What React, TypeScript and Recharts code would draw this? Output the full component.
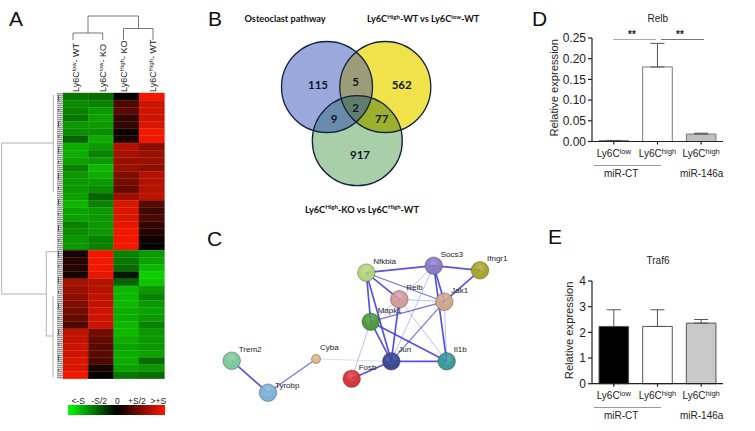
import React from 'react';
import {
  Bar,
  BarChart,
  Cell,
  ErrorBar,
  ReferenceLine,
  Scatter,
  ScatterChart,
  XAxis,
  YAxis,
} from 'recharts';

const SANS = '"Liberation Sans", Arial, sans-serif';
const VENN_FONT = 'Lato, "Open Sans", sans-serif';

// ---- panel A: heatmap, one value per row, -1 is full green, +1 is full red
const heatLow1 = [-0.55, -0.65, -0.6, -0.55, -0.7, -0.65, -0.45, -0.8, -0.8, -0.75, -0.6, -0.7, -0.7, -0.7, -0.75, -0.85, -0.75, -0.75, -0.6, -0.65, -0.7, -0.7, 0.1, 0.15, 0.15, 0.1, 0.65, 0.6, 0.55, 0.5, 0.45, 0.4, 0.3, 0.75, 0.75, 0.8, 0.8, 0.85, 0.85, 0.95];
const heatLow2 = [-0.5, -0.6, -0.7, -0.75, -0.7, -0.65, -0.8, -0.7, -0.6, -0.7, -0.85, -0.8, -0.7, -0.65, -0.45, -0.6, -0.7, -0.7, -0.7, -0.7, -0.6, -0.6, 0.95, 0.95, 0.95, 0.9, 0.7, 0.7, 0.75, 0.75, 0.8, 0.8, 0.8, 0.45, 0.4, 0.35, 0.35, 0.3, 0.1, 0.02];
const heatHigh1 = [0.02, 0.3, 0.35, 0.2, 0.2, 0.05, 0.1, 0.7, 0.65, 0.6, 0.6, 0.5, 0.45, 0.4, 0.6, 0.85, 0.85, 0.85, 0.9, 0.95, 0.95, 0.95, -0.6, -0.55, -0.5, -0.1, -0.45, -0.85, -0.85, -0.85, -0.8, -0.8, -0.85, -0.85, -0.8, -0.75, -0.8, -0.8, -0.75, -0.55];
const heatHigh2 = [0.95, 0.8, 0.8, 0.8, 0.85, 0.95, 0.95, 0.55, 0.6, 0.6, 0.55, 0.7, 0.7, 0.7, 0.75, 0.35, 0.25, 0.3, 0.2, 0.15, 0.05, 0.02, -0.7, -0.75, -0.85, -0.95, -0.9, -0.7, -0.6, -0.7, -0.75, -0.7, -0.6, -0.7, -0.7, -0.7, -0.75, -0.5, -0.7, -0.5];
const heatColumns = [heatLow1, heatLow2, heatHigh1, heatHigh2];
const heatSups = ['low', 'low', 'High', 'High'];
const heatGroups = ['- WT', '- KO', '- KO', '- WT'];
const heatTickShift = [3.3, 5, 1, 4.7];
const heatRows = heatLow1.map((_, row) => ({ row, a: 1, b: 1, c: 1, d: 1 }));
const heatKeys = ['a', 'b', 'c', 'd'];

const heatColor = (v: number) => {
  const level = Math.round(Math.abs(v) * 255);
  return v >= 0 ? `rgb(${level},${Math.round(level * 0.1)},0)` : `rgb(${Math.round(level * 0.06)},${Math.round(level * 0.85)},0)`;
};

// dendrogram branches, [x1, y1, x2, y2] in page pixels
const dendroBranches = [
  [73, 40, 73, 33], [73, 33, 102.7, 33], [102.7, 33, 102.7, 40],
  [123.5, 40, 123.5, 28.5], [123.5, 28.5, 153, 28.5], [153, 28.5, 153, 40],
  [88, 33, 88, 16], [138.5, 28.5, 138.5, 16], [88, 16, 138.5, 16],
  [1.7, 143, 1.7, 294], [1.7, 143, 53.3, 143], [1.7, 294, 46.3, 294],
  [53.3, 95, 53.3, 192], [46.3, 251.7, 46.3, 336], [46.3, 251.7, 57, 251.7],
  [46.3, 336, 53, 336], [53, 296, 53, 377],
];
const dendroCorners = [{ x: 0, y: 0 }, { x: 170, y: 400 }];

// ---- panel B: venn
const vennSets = [
  { id: 'pathway', x: 127, y: 87, r: 45.5 },
  { id: 'wtHighLow', x: 185.3, y: 87, r: 45.5 },
  { id: 'koHigh', x: 157.3, y: 140.7, r: 45 },
];
const vennCountLabels = ['115', '5', '562', '2', '9', '77', '917'];
const vennCountX = [118, 155.7, 201.7, 155.7, 134, 181.7, 160];
const vennCountY = [85, 82.3, 85, 107.7, 119.3, 119.3, 155];

// ---- panel C: network
const nodeNames = ['Nfkbia', 'Socs3', 'Ifngr1', 'Relb', 'Jak1', 'Mapk1', 'Jun', 'Il1b', 'Fosb', 'Cyba', 'Trem2', 'Tyrobp'];
const nodeX = [366.3, 433.7, 480, 399.3, 444.3, 370.7, 391.3, 446.7, 351.7, 316, 231.7, 268];
const nodeY = [272.7, 265.7, 270.3, 299.3, 301.7, 321.7, 361.3, 361.3, 378.7, 359, 360.7, 392.7];
const nodeColors = ['#b3d47c', '#8b7cc4', '#a6a62e', '#d49a9c', '#cfa88e', '#4f9a3c', '#3d4a94', '#3a9a9c', '#d8343a', '#e0b884', '#7cc89a', '#7eb4d8'];
// from, to, confidence
const edgeList = [
  [0, 1, 3], [0, 3, 3], [0, 4, 2], [0, 5, 3], [0, 6, 3], [1, 2, 3], [1, 3, 1], [1, 4, 3], [1, 6, 1], [1, 7, 3],
  [2, 4, 3], [3, 4, 1], [3, 5, 1], [3, 6, 3], [3, 7, 1], [4, 5, 2], [4, 6, 2], [4, 7, 1], [5, 6, 3], [5, 7, 3],
  [5, 8, 1], [6, 7, 3], [6, 8, 3], [6, 9, 0], [9, 11, 2], [10, 11, 3],
];

// ---- panels D and E: bars
const barLabels = ['low', 'high', 'high'];
const relbMeans = [0.002, 0.18, 0.018];
const relbUpper = [0.0005, 0.057, 0.002];
const traf6Means = [2.23, 2.23, 2.36];
const traf6Upper = [0.65, 0.65, 0.14];
const traf6Fills = ['#000000', '#ffffff', '#c9c9c9'];
const relbFills = ['#000000', '#ffffff', '#c0c0c0'];

const relbData = barLabels.map((sup, i) => ({ sup, value: relbMeans[i], err: [0, relbUpper[i]] }));
const traf6Data = barLabels.map((sup, i) => ({ sup, value: traf6Means[i], err: [0, traf6Upper[i]] }));

const Abs = ({ x, y, children, style }: any) => (
  <div style={{ position: 'absolute', left: x, top: y, whiteSpace: 'nowrap', lineHeight: 1, ...style }}>{children}</div>
);

const Sup = ({ children, size }: any) => (
  <span style={{ fontSize: size, verticalAlign: 'baseline', position: 'relative', top: -size * 0.55 }}>{children}</span>
);

const PanelLetter = ({ x, y, children }: any) => (
  <Abs x={x} y={y} style={{ fontFamily: SANS, fontSize: 21, color: '#111' }}>{children}</Abs>
);

const HeatTick = ({ x, y, index }: any) => {
  const tx = x + heatTickShift[index];
  const ty = y + 7;
  return (
    <text transform={`rotate(-90 ${tx} ${ty})`} x={tx} y={ty} fontFamily={SANS} fontSize={9} fill="#222">
      Ly6C
      <tspan fontSize={6} dy={-3}>{heatSups[index]}</tspan>
      <tspan dy={3}>{heatGroups[index]}</tspan>
    </text>
  );
};

const Heatmap = () => (
  <div style={{ position: 'absolute', left: 63.3, top: 30 }}>
    <BarChart
      width={101.4}
      height={349}
      layout="vertical"
      data={heatRows}
      barCategoryGap={0}
      margin={{ top: 62, right: 0, bottom: 0, left: 0 }}
    >
      <XAxis
        type="number"
        orientation="top"
        domain={[0, 4]}
        ticks={[0.5, 1.5, 2.5, 3.5]}
        height={1}
        axisLine={false}
        tickLine={false}
        interval={0}
        tick={HeatTick}
      />
      <YAxis type="category" dataKey="row" hide />
      {heatKeys.map((key, col) => (
        <Bar key={key} dataKey={key} stackId="heat" isAnimationActive={false}>
          {heatRows.map((r) => (
            <Cell
              key={r.row}
              fill={heatColor(heatColumns[col][r.row])}
              stroke={heatColor(heatColumns[col][r.row])}
              strokeWidth={0.4}
            />
          ))}
        </Bar>
      ))}
    </BarChart>
  </div>
);

// page-sized chart holding the dendrogram branches, drawn through its own scales
const Dendrogram = () => (
  <div style={{ position: 'absolute', left: 0, top: 0 }}>
    <ScatterChart width={170} height={400} margin={{ top: 0, right: 0, bottom: 0, left: 0 }}>
      <XAxis type="number" dataKey="x" domain={[0, 170]} hide />
      <YAxis type="number" dataKey="y" domain={[0, 400]} reversed hide />
      <Scatter data={dendroCorners} shape={() => <g />} isAnimationActive={false} />
      {dendroBranches.map(([x1, y1, x2, y2], i) => (
        <ReferenceLine
          key={i}
          segment={[{ x: x1, y: y1 }, { x: x2, y: y2 }]}
          stroke={i < 9 ? '#555' : '#a0a0a0'}
          strokeWidth={0.8}
        />
      ))}
      <ReferenceLine
        segment={[{ x: 58.5, y: 95 }, { x: 58.5, y: 378 }]}
        stroke="#333"
        strokeWidth={0.7}
        strokeDasharray="6 8 2 10"
      />
    </ScatterChart>
  </div>
);

const vennRegions = [
  { ...vennSets[0], fill: '#9aa8dc' },
  { ...vennSets[1], fill: '#efe24a' },
  { ...vennSets[2], fill: '#a9cfa8' },
  { ...vennSets[0], fill: '#9c9c78', clip: 'clip-wtHighLow' },
  { ...vennSets[0], fill: '#6a8cab', clip: 'clip-koHigh' },
  { ...vennSets[1], fill: '#9cb02e', clip: 'clip-koHigh' },
  { ...vennSets[0], fill: '#5f7f6c', clip: 'clip-triple' },
];
const vennCounts = vennCountLabels.map((label, i) => ({ label, x: vennCountX[i], y: vennCountY[i] }));

const VennDisc = ({ cx, cy, payload }: any) => (
  <circle cx={cx} cy={cy} r={payload.r} fill={payload.fill} clipPath={payload.clip ? `url(#${payload.clip})` : undefined} />
);
const VennRing = ({ cx, cy, payload }: any) => (
  <circle cx={cx} cy={cy} r={payload.r} fill="none" stroke="#14203f" strokeWidth={1.3} />
);
const VennCount = ({ cx, cy, payload }: any) => (
  <text x={cx} y={cy} dy="0.36em" textAnchor="middle" fontFamily={VENN_FONT} fontWeight={700} fontSize={11.5} fill="#10182c">
    {payload.label}
  </text>
);

const Venn = () => (
  <div style={{ position: 'absolute', left: 200, top: 0 }}>
    <ScatterChart width={300} height={200} margin={{ top: 0, right: 0, bottom: 0, left: 0 }}>
      <defs>
        {vennSets.map((s) => (
          <clipPath id={`clip-${s.id}`} key={s.id}>
            <circle cx={s.x} cy={s.y} r={s.r} />
          </clipPath>
        ))}
        <clipPath id="clip-triple" clipPath="url(#clip-koHigh)">
          <circle cx={vennSets[1].x} cy={vennSets[1].y} r={vennSets[1].r} />
        </clipPath>
      </defs>
      <XAxis type="number" dataKey="x" domain={[0, 300]} hide />
      <YAxis type="number" dataKey="y" domain={[0, 200]} reversed hide />
      <Scatter data={vennRegions} shape={VennDisc} isAnimationActive={false} />
      <Scatter data={vennSets} shape={VennRing} isAnimationActive={false} />
      <Scatter data={vennCounts} shape={VennCount} isAnimationActive={false} />
    </ScatterChart>
  </div>
);

const networkNodes = nodeNames.map((name, i) => ({ name, i, x: nodeX[i], y: nodeY[i] }));

const NetworkNode = ({ cx, cy, payload }: any) => {
  const small = payload.name === 'Cyba';
  return (
    <g>
      <circle cx={cx} cy={cy} r={small ? 4.5 : 8.8} fill={`url(#node-${payload.i})`} stroke="#333" strokeOpacity={0.55} strokeWidth={0.7} />
      <text x={cx + (small ? 4 : 7)} y={cy - (payload.name === 'Tyrobp' ? 5 : 9)} fontFamily={SANS} fontSize={8} fill="#222">
        {payload.name}
      </text>
    </g>
  );
};

const edgeWidths = [0.6, 0.8, 1.2, 1.7];
const edgeOpacities = [0.3, 0.4, 0.7, 0.85];

const Network = () => (
  <div style={{ position: 'absolute', left: 200, top: 230 }}>
    <ScatterChart width={320} height={190} margin={{ top: 0, right: 0, bottom: 0, left: 0 }}>
      <defs>
        {nodeColors.map((c, i) => (
          <radialGradient id={`node-${i}`} key={c} cx="50%" cy="35%" r="70%">
            <stop offset="0%" stopColor={c} stopOpacity={0.75} />
            <stop offset="55%" stopColor={c} />
            <stop offset="100%" stopColor={c} />
          </radialGradient>
        ))}
      </defs>
      <XAxis type="number" dataKey="x" domain={[200, 520]} hide />
      <YAxis type="number" dataKey="y" domain={[230, 420]} reversed hide />
      {edgeList.map(([from, to, weight], i) => (
        <ReferenceLine
          key={i}
          segment={[
            { x: nodeX[from], y: nodeY[from] },
            { x: nodeX[to], y: nodeY[to] },
          ]}
          stroke="#3a36d8"
          strokeWidth={edgeWidths[weight]}
          strokeOpacity={edgeOpacities[weight]}
        />
      ))}
      <Scatter data={networkNodes} shape={NetworkNode} isAnimationActive={false} />
    </ScatterChart>
  </div>
);

const BarTick = ({ x, y, index }: any) => (
  <text x={x} y={y + 10} textAnchor="middle" fontFamily={SANS} fontSize={10} fill="#222">
    Ly6C
    <tspan fontSize={7.6} dy={-3}>{barLabels[index]}</tspan>
  </text>
);

const ExpressionChart = ({ left, top, height, plotHeight, data, fills, domain, ticks, format, barStroke, labelShift }: any) => (
  <div style={{ position: 'absolute', left, top }}>
    <BarChart
      width={245}
      height={height}
      data={data}
      barSize={29.6}
      margin={{ top: 10, right: 32, bottom: height - plotHeight - 10 - 22, left: 0 }}
    >
      <XAxis
        dataKey="sup"
        interval={0}
        height={22}
        stroke="#222"
        strokeWidth={1.2}
        tickSize={3}
        allowDuplicatedCategory
        tick={BarTick}
      />
      <YAxis
        width={82}
        domain={domain}
        ticks={ticks}
        interval={0}
        tickFormatter={format}
        stroke="#222"
        strokeWidth={1.2}
        tickSize={4}
        tick={{ fontFamily: SANS, fontSize: 12, fill: '#222' }}
        label={{
          value: 'Relative expression',
          angle: -90,
          position: 'insideLeft',
          offset: labelShift,
          dy: -2,
          style: { fontFamily: SANS, fontSize: 11.2, fill: '#222', textAnchor: 'middle' },
        }}
      />
      <Bar dataKey="value" stroke={barStroke} strokeWidth={1} isAnimationActive={false}>
        {data.map((d: any, i: number) => (
          <Cell key={i} fill={fills[i]} />
        ))}
        <ErrorBar dataKey="err" direction="y" width={7} stroke="#555" strokeWidth={1} />
      </Bar>
    </BarChart>
  </div>
);

const GroupCaption = ({ top }: any) => (
  <>
    <div style={{ position: 'absolute', left: 594, top, width: 67, height: 1, background: '#999' }} />
    <Abs x={604} y={top + 4} style={{ fontFamily: SANS, fontSize: 10, color: '#222' }}>miR-CT</Abs>
    <Abs x={680} y={top + 4} style={{ fontFamily: SANS, fontSize: 10, color: '#222' }}>miR-146a</Abs>
  </>
);

const VennTitle = ({ x, y, children }: any) => (
  <Abs x={x} y={y} style={{ fontFamily: VENN_FONT, fontWeight: 700, fontSize: 9.2, color: '#111' }}>{children}</Abs>
);

const scaleLabel = { fontFamily: SANS, fontSize: 8.5, color: '#222' };

export default function App() {
  return (
    <div style={{ position: 'absolute', left: 0, top: 0, width: 755, height: 431, background: '#fff', overflow: 'hidden' }}>
      <PanelLetter x={9} y={8}>A</PanelLetter>
      <PanelLetter x={208} y={8}>B</PanelLetter>
      <PanelLetter x={207} y={228}>C</PanelLetter>
      <PanelLetter x={532} y={8}>D</PanelLetter>
      <PanelLetter x={548} y={226}>E</PanelLetter>

      <div style={{ position: 'absolute', left: 57, top: 93, width: 6, height: 286, background: 'repeating-linear-gradient(#9a9a9a 0 1px, #d4d4d4 1px 2px)' }} />
      <Dendrogram />
      <Heatmap />
      <div style={{ position: 'absolute', left: 67.7, top: 405, width: 97, height: 10, background: 'linear-gradient(90deg, #00ff00 0%, #000 50%, #ff1500 100%)' }} />
      <Abs x={71.5} y={397} style={scaleLabel}>&lt;-S</Abs>
      <Abs x={91.5} y={397} style={scaleLabel}>-S/2</Abs>
      <Abs x={115} y={397} style={scaleLabel}>0</Abs>
      <Abs x={128} y={397} style={scaleLabel}>+S/2</Abs>
      <Abs x={150.5} y={397} style={scaleLabel}>&gt;+S</Abs>

      <Venn />
      <VennTitle x={244.5} y={14}>Osteoclast pathway</VennTitle>
      <VennTitle x={367} y={14}>Ly6C<Sup size={6}>High</Sup>-WT vs Ly6C<Sup size={6}>low</Sup>-WT</VennTitle>
      <VennTitle x={305} y={204.5}>Ly6C<Sup size={6}>High</Sup>-KO vs Ly6C<Sup size={6}>High</Sup>-WT</VennTitle>

      <Network />

      <ExpressionChart
        left={510}
        top={28}
        height={160}
        plotHeight={103.5}
        data={relbData}
        fills={relbFills}
        domain={[0, 0.25]}
        ticks={[0, 0.05, 0.1, 0.15, 0.2, 0.25]}
        format={(v: number) => v.toFixed(2)}
        barStroke="#777"
        labelShift={44}
      />
      <Abs x={647.5} y={14} style={{ fontFamily: SANS, fontSize: 10, color: '#222' }}>Relb</Abs>
      <div style={{ position: 'absolute', left: 613, top: 39, width: 43, height: 1.4, background: '#aaa' }} />
      <div style={{ position: 'absolute', left: 660.5, top: 39, width: 43, height: 1, background: '#777' }} />
      <Abs x={628} y={30} style={{ fontFamily: SANS, fontWeight: 700, fontSize: 10, color: '#222' }}>**</Abs>
      <Abs x={676} y={30} style={{ fontFamily: SANS, fontWeight: 700, fontSize: 10, color: '#222' }}>**</Abs>
      <GroupCaption top={165} />

      <ExpressionChart
        left={510}
        top={271}
        height={155}
        plotHeight={102.7}
        data={traf6Data}
        fills={traf6Fills}
        domain={[0, 4]}
        ticks={[0, 1, 2, 3, 4]}
        format={(v: number) => String(v)}
        barStroke="#555"
        labelShift={59}
      />
      <Abs x={646.5} y={256} style={{ fontFamily: SANS, fontSize: 10, color: '#222' }}>Traf6</Abs>
      <GroupCaption top={407} />
    </div>
  );
}
